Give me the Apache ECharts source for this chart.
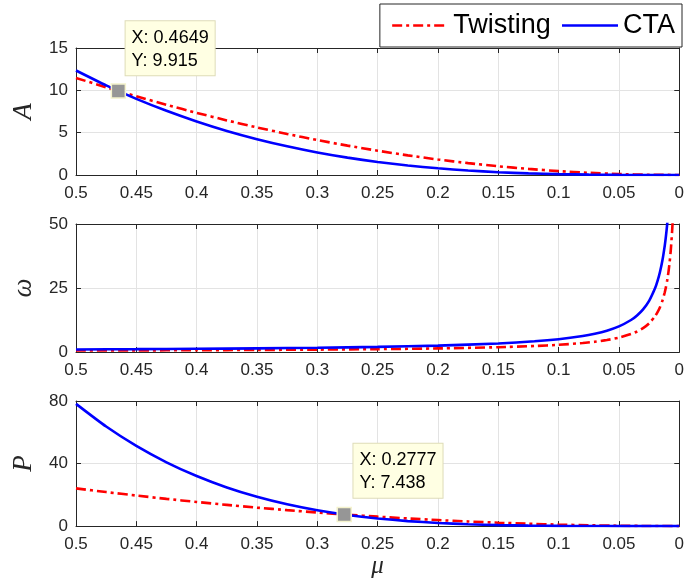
<!DOCTYPE html>
<html>
<head>
<meta charset="utf-8">
<script src="https://cdn.jsdelivr.net/npm/echarts@6/dist/echarts.min.js"></script>
<style>
html,body{margin:0;padding:0;background:#fff;}
#chart{width:687px;height:580px;}
</style>
</head>
<body>
<div id="chart"></div>
<script>
// ---- data ----
const seriesNames = ['Twisting', 'CTA'];
const yNames = ['A', 'ω', 'P'];
const xName = 'μ';

const muGrid = [0.5, 0.475, 0.45, 0.425, 0.4, 0.375, 0.35, 0.325, 0.3, 0.275, 0.25,
                0.225, 0.2, 0.175, 0.15, 0.125, 0.1, 0.075, 0.05, 0.025, 0];

const aTwisting = [11.47, 10.35, 9.29, 8.29, 7.34, 6.45, 5.62, 4.85, 4.13, 3.47, 2.87,
                   2.32, 1.83, 1.40, 1.03, 0.72, 0.46, 0.26, 0.115, 0.029, 0];
const aCTA = [12.34, 10.58, 8.99, 7.58, 6.32, 5.20, 4.23, 3.39, 2.66, 2.05, 1.54,
              1.12, 0.79, 0.53, 0.33, 0.19, 0.099, 0.042, 0.012, 0.0015, 0];

const omegaMu = [0.5, 0.45, 0.4, 0.35, 0.3, 0.25, 0.2, 0.15, 0.12, 0.1, 0.08, 0.07, 0.06,
                 0.05, 0.04, 0.035, 0.03, 0.025, 0.02, 0.018, 0.016, 0.014, 0.012, 0.011,
                 0.01, 0.009, 0.008, 0.007, 0.006, 0.0055, 0.005, 0.0045, 0.004];
const omegaTwisting = [0.56, 0.62, 0.70, 0.80, 0.93, 1.12, 1.40, 1.87, 2.33, 2.80, 3.50, 4.00, 4.67,
                       5.60, 7.00, 8.00, 9.33, 11.2, 14.0, 15.56, 17.5, 20.0, 23.33, 25.45,
                       28.0, 31.11, 35.0, 40.0, 46.67, 50.91, 56.0, 62.2, 70.0];
const omegaCTA = [1.0, 1.11, 1.25, 1.43, 1.67, 2.0, 2.5, 3.33, 4.17, 5.0, 6.25, 7.14, 8.33,
                  10.0, 12.5, 14.29, 16.67, 20.0, 25.0, 27.78, 31.25, 35.71, 41.67, 45.45,
                  50.0, 55.56, 62.5, 71.4, 83.3, 90.9, 100, 111, 125];

const pTwisting = [24.11, 21.76, 19.53, 17.42, 15.43, 13.56, 11.81, 10.19, 8.68, 7.29, 6.03,
                   4.88, 3.86, 2.95, 2.17, 1.51, 0.96, 0.54, 0.24, 0.06, 0];
const pCTA = [78.17, 63.67, 51.29, 40.80, 32.02, 24.73, 18.77, 13.95, 10.13, 7.15, 4.89,
              3.21, 2.00, 1.17, 0.63, 0.31, 0.125, 0.040, 0.008, 0.0005, 0];

const yRanges = [[0, 15, 5], [0, 50, 25], [0, 80, 40]];
const xRange = [0, 0.5, 0.05];

const datatip1 = [0.4649, 9.915];
const datatip2 = [0.2777, 7.438];

// ---- styling ----
const TXT = '#262626';
const FONT = "'Liberation Sans', Arial, sans-serif";
const SERIF = "'Liberation Serif', 'DejaVu Serif', serif";
const grids = [
  {left: 76, top: 48, width: 607, height: 127},
  {left: 76, top: 224, width: 607, height: 128},
  {left: 76, top: 401, width: 607, height: 127}
];

function zip(xs, ys) { return xs.map((x, i) => [x, ys[i]]); }
function fmtX(v) { return String(parseFloat(v.toFixed(2))); }

const xAxes = [], yAxes = [];
grids.forEach((g, i) => {
  xAxes.push({
    type: 'value', gridIndex: i, inverse: true, position: 'bottom',
    min: xRange[0], max: xRange[1], interval: xRange[2],
    axisLine: {show: true, onZero: false, lineStyle: {color: TXT, width: 1}},
    axisTick: {show: true, inside: true, length: 5, lineStyle: {color: TXT}},
    axisLabel: {show: true, color: TXT, fontSize: 17, fontFamily: FONT, margin: 10, formatter: fmtX},
    splitLine: {show: true, lineStyle: {color: '#e3e3e3', width: 1}},
    name: i === 2 ? xName : '', nameLocation: 'middle', nameGap: 18,
    nameTextStyle: {fontFamily: SERIF, fontStyle: 'italic', fontSize: 25, color: TXT}
  });
  xAxes.push({
    type: 'value', gridIndex: i, inverse: true, position: 'top',
    min: xRange[0], max: xRange[1], interval: xRange[2],
    axisLine: {show: true, onZero: false, lineStyle: {color: TXT, width: 1}},
    axisTick: {show: true, inside: true, length: 5, lineStyle: {color: TXT}},
    axisLabel: {show: false}, splitLine: {show: false}
  });
  const r = yRanges[i];
  yAxes.push({
    type: 'value', gridIndex: i, position: 'left',
    min: r[0], max: r[1], interval: r[2],
    axisLine: {show: true, onZero: false, lineStyle: {color: TXT, width: 1}},
    axisTick: {show: true, inside: true, length: 5, lineStyle: {color: TXT}},
    axisLabel: {show: true, color: TXT, fontSize: 17, fontFamily: FONT, margin: 8},
    splitLine: {show: true, lineStyle: {color: '#e3e3e3', width: 1}},
    name: yNames[i], nameLocation: 'middle', nameGap: 39, nameRotate: 90,
    nameTextStyle: {fontFamily: SERIF, fontStyle: 'italic', fontSize: 27, color: TXT}
  });
  yAxes.push({
    type: 'value', gridIndex: i, position: 'right',
    min: r[0], max: r[1], interval: r[2],
    axisLine: {show: true, onZero: false, lineStyle: {color: TXT, width: 1}},
    axisTick: {show: true, inside: true, length: 5, lineStyle: {color: TXT}},
    axisLabel: {show: false}, splitLine: {show: false}
  });
});

const redStyle = {color: '#ff0000', width: 2.6, type: [10, 4, 3, 4]};
const blueStyle = {color: '#0000ff', width: 2.6, type: 'solid'};

function lineSeries(name, data, gi, style) {
  return {
    name: name, type: 'line', xAxisIndex: gi * 2, yAxisIndex: gi * 2,
    data: data, symbol: 'none', showSymbol: false, smooth: 0.2, clip: true,
    lineStyle: style, itemStyle: {color: style.color}, z: 3
  };
}

function tipSeries(pt, gi, pos) {
  return {
    type: 'scatter', xAxisIndex: gi * 2, yAxisIndex: gi * 2,
    data: [pt], symbol: 'rect', symbolSize: 14, z: 10, silent: true,
    itemStyle: {color: '#969696', opacity: 1, borderColor: '#f4f2cc', borderWidth: 1.5},
    label: {
      show: true, position: pos,
      formatter: 'X: ' + pt[0] + '\nY: ' + pt[1],
      fontSize: 18, fontFamily: FONT, color: '#000',
      lineHeight: 23, backgroundColor: '#ffffe3',
      borderColor: '#dedcb8', borderWidth: 1, padding: [5, 6, 3, 6]
    }
  };
}

const series = [
  lineSeries(seriesNames[0], zip(muGrid, aTwisting), 0, redStyle),
  lineSeries(seriesNames[1], zip(muGrid, aCTA), 0, blueStyle),
  lineSeries(seriesNames[0], zip(omegaMu, omegaTwisting), 1, redStyle),
  lineSeries(seriesNames[1], zip(omegaMu, omegaCTA), 1, blueStyle),
  lineSeries(seriesNames[0], zip(muGrid, pTwisting), 2, redStyle),
  lineSeries(seriesNames[1], zip(muGrid, pCTA), 2, blueStyle),
  tipSeries(datatip1, 0, [15, -62]),
  tipSeries(datatip2, 2, [17, -63])
];

const chart = echarts.init(document.getElementById('chart'), null, {renderer: 'canvas'});
chart.setOption({
  backgroundColor: '#ffffff',
  animation: false,
  grid: grids,
  xAxis: xAxes,
  yAxis: yAxes,
  legend: {
    data: seriesNames, right: 5, top: 4,
    orient: 'horizontal',
    backgroundColor: '#ffffff', borderColor: TXT, borderWidth: 1,
    padding: [8, 7, 8, 11], itemGap: 10, itemWidth: 56, itemHeight: 24,
    itemStyle: {color: 'rgba(0,0,0,0)', borderWidth: 0, opacity: 0},
    lineStyle: {width: 2.6},
    textStyle: {fontSize: 27, fontFamily: FONT, color: '#000'},
    selectedMode: false
  },
  series: series
});
</script>
</body>
</html>
